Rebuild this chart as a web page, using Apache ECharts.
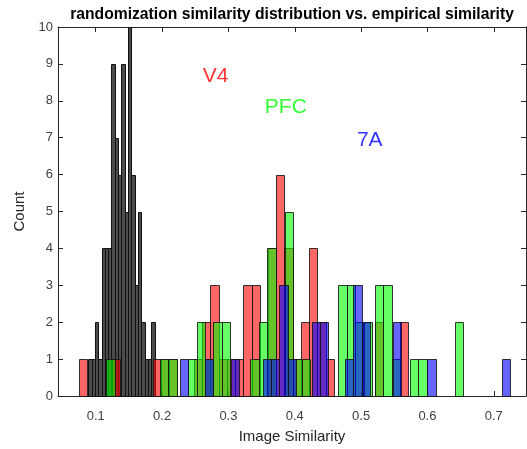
<!DOCTYPE html>
<html>
<head>
<meta charset="utf-8">
<script src="https://cdn.jsdelivr.net/npm/echarts@6/dist/echarts.min.js"></script>
<style>
html,body{margin:0;padding:0;background:#fff;}
#c{width:527px;height:449px;}
</style>
</head>
<body>
<div id="c"></div>
<script>
// ---- data ----
const xTicks = [0.1, 0.2, 0.3, 0.4, 0.5, 0.6, 0.7];
const yTicks = [0, 1, 2, 3, 4, 5, 6, 7, 8, 9, 10];

// randomization similarity distribution (black)
const randBinWidth = 0.005;
const randLeft = [0.0887, 0.0937, 0.0987, 0.1037, 0.1087, 0.1137, 0.1187, 0.1237, 0.1287, 0.1337,
                  0.1387, 0.1437, 0.1487, 0.1537, 0.1587, 0.1637, 0.1687, 0.1737, 0.1787, 0.1837];
const randCounts = [1, 1, 2, 1, 4, 4, 4, 9, 7, 6, 9, 5, 10, 6, 3, 5, 2, 1, 1, 2];

// V4 (red)
const v4BinWidth = 0.0124;
const v4Left = [0.0744, 0.1240, 0.1860, 0.1984, 0.2108, 0.2480, 0.2604, 0.2728, 0.2852, 0.2976,
                0.3100, 0.3224, 0.3348, 0.3596, 0.3720, 0.3844, 0.3968, 0.4092, 0.4216, 0.4340,
                0.4464, 0.5208, 0.5580];
const v4Counts = [1, 1, 1, 1, 1, 1, 2, 3, 1, 1, 1, 3, 3, 4, 6, 4, 1, 2, 4, 2, 1, 2, 2];

// PFC (green)
const pfcBinWidth = 0.0127;
const pfcLeft = [0.1161, 0.1965, 0.2094, 0.2392, 0.2519, 0.2644, 0.2772, 0.2900, 0.3330, 0.3463,
                 0.3587, 0.3846, 0.3976, 0.4103, 0.4655, 0.4781, 0.4906, 0.5042, 0.5208, 0.5333,
                 0.5465, 0.5736, 0.5864, 0.6415];
const pfcCounts = [1, 1, 1, 1, 2, 1, 2, 2, 1, 2, 4, 5, 1, 1, 3, 3, 2, 2, 3, 3, 1, 1, 1, 2];

// 7A (blue)
const a7BinWidth = 0.0127;
const a7Left = [0.2267, 0.2644, 0.3032, 0.3519, 0.3640, 0.3765, 0.3891, 0.4253, 0.4379, 0.4756,
                0.4881, 0.5008, 0.5480, 0.5997, 0.7119];
const a7Counts = [1, 1, 1, 1, 1, 3, 1, 2, 2, 1, 3, 2, 2, 1, 1];

// annotation labels
const labelNames = ['V4', 'PFC', '7A'];
const labelX = [0.2614, 0.3549, 0.4937];
const labelY = [8.66, 7.84, 6.93];
const labelColors = ['#ff0000', '#00ff00', '#0000ff'];

// ---- chart ----
const FONT = '"Liberation Sans", Arial, Helvetica, sans-serif';
const AX = '#262626';

function pairs(left, counts) {
  return left.map((x, i) => [x, counts[i]]);
}

function makeRender(width, fill, stroke) {
  return function (params, api) {
    const x0 = api.value(0), c = api.value(1);
    const p0 = api.coord([x0, 0]);
    const p1 = api.coord([x0 + width, c]);
    const xa = Math.round(p0[0]) + 0.5, xb = Math.round(p1[0]) + 0.5;
    const yb = Math.round(p0[1]) + 0.5, ya = Math.round(p1[1]) + 0.5;
    return {
      type: 'rect',
      shape: { x: xa, y: ya, width: xb - xa, height: yb - ya },
      style: { fill: fill, stroke: stroke, lineWidth: 1 }
    };
  };
}

function histSeries(name, left, counts, width, fill, stroke) {
  return {
    type: 'custom',
    name: name,
    xAxisIndex: 0,
    yAxisIndex: 0,
    renderItem: makeRender(width, fill, stroke),
    encode: { x: 0, y: 1 },
    data: pairs(left, counts),
    silent: true,
    animation: false
  };
}

const chart = echarts.init(document.getElementById('c'), null, { renderer: 'canvas' });

const xMin = 0.0431, xMax = 0.7486;

chart.setOption({
  animation: false,
  backgroundColor: '#ffffff',
  title: {
    text: 'randomization similarity distribution vs. empirical similarity',
    left: 287,
    top: 2,
    textAlign: 'center',
    textStyle: { fontFamily: FONT, fontSize: 15.7, fontWeight: 'bold', color: '#000' }
  },
  grid: { left: 58, right: 1, top: 27, bottom: 47, containLabel: false },
  xAxis: [
    {
      type: 'value', position: 'bottom', min: xMin, max: xMax,
      axisLine: { show: true, onZero: false, lineStyle: { color: AX, width: 1 } },
      axisTick: { show: true, inside: true, length: 5, customValues: xTicks, lineStyle: { color: AX } },
      axisLabel: { show: true, customValues: xTicks, margin: 14, fontFamily: FONT, fontSize: 13, color: '#404040',
                   formatter: v => Number(v).toFixed(1) },
      splitLine: { show: false },
      name: 'Image Similarity', nameLocation: 'middle', nameGap: 33,
      nameTextStyle: { fontFamily: FONT, fontSize: 15, color: AX }
    },
    {
      type: 'value', position: 'top', min: xMin, max: xMax,
      axisLine: { show: true, onZero: false, lineStyle: { color: AX, width: 1 } },
      axisTick: { show: true, inside: true, length: 5, customValues: xTicks, lineStyle: { color: AX } },
      axisLabel: { show: false },
      splitLine: { show: false }
    }
  ],
  yAxis: [
    {
      type: 'value', position: 'left', min: 0, max: 10, interval: 1,
      axisLine: { show: true, onZero: false, lineStyle: { color: AX, width: 1 } },
      axisTick: { show: true, inside: true, length: 5, lineStyle: { color: AX } },
      axisLabel: { show: true, margin: 5, fontFamily: FONT, fontSize: 13, color: '#404040',
                   customValues: yTicks },
      splitLine: { show: false },
      name: 'Count', nameLocation: 'middle', nameGap: 16, nameRotate: 90,
      nameTextStyle: { fontFamily: FONT, fontSize: 15, color: AX }
    },
    {
      type: 'value', position: 'right', min: 0, max: 10, interval: 1,
      axisLine: { show: true, onZero: false, lineStyle: { color: AX, width: 1 } },
      axisTick: { show: true, inside: true, length: 5, lineStyle: { color: AX } },
      axisLabel: { show: false },
      splitLine: { show: false }
    }
  ],
  series: [
    histSeries('randomization', randLeft, randCounts, randBinWidth, 'rgba(0,0,0,0.7)', '#111'),
    histSeries('V4', v4Left, v4Counts, v4BinWidth, 'rgba(255,0,0,0.6)', 'rgba(20,20,20,0.85)'),
    histSeries('PFC', pfcLeft, pfcCounts, pfcBinWidth, 'rgba(0,255,0,0.6)', 'rgba(20,20,20,0.85)'),
    histSeries('7A', a7Left, a7Counts, a7BinWidth, 'rgba(0,0,255,0.6)', 'rgba(20,20,20,0.85)'),
    {
      type: 'scatter',
      xAxisIndex: 0, yAxisIndex: 0,
      symbolSize: 0,
      silent: true,
      data: labelNames.map((n, i) => ({
        name: n,
        value: [labelX[i], labelY[i]],
        label: { color: labelColors[i] }
      })),
      label: {
        show: true, position: 'inside', align: 'left', verticalAlign: 'middle',
        formatter: p => p.name, fontFamily: FONT, fontSize: 21
      }
    }
  ]
});
</script>
</body>
</html>
